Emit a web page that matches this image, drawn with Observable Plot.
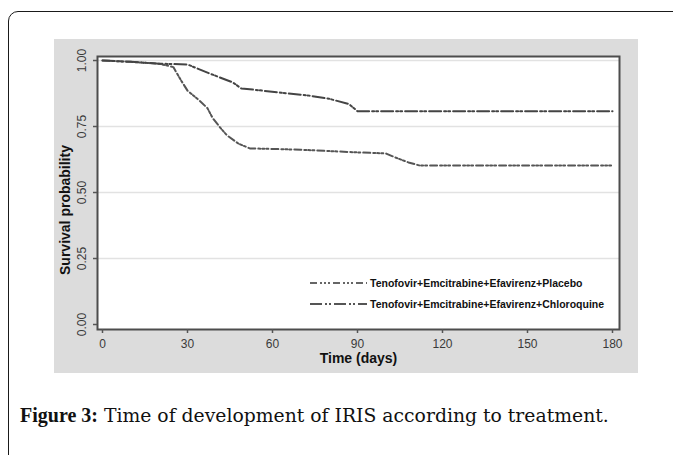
<!DOCTYPE html>
<html><head><meta charset="utf-8">
<script src="https://cdn.jsdelivr.net/npm/d3@7"></script>
<script src="https://cdn.jsdelivr.net/npm/@observablehq/plot@0.6"></script>
<style>
html,body{margin:0;padding:0;background:#fff;width:673px;height:455px;overflow:hidden}
#box{position:absolute;left:8px;top:11px;width:720px;height:520px;border:1.5px solid #1a1a1a;border-top-left-radius:10px;box-sizing:border-box}
#panel{position:absolute;left:54px;top:39px;width:584px;height:334px;background:#dcdcdc}
#legend{position:absolute;left:305px;top:275px}
#caption{position:absolute;left:20px;top:403px;font-family:"DejaVu Serif",serif;font-size:18.8px;line-height:24px;color:#111;white-space:nowrap}
#caption b{font-family:"Liberation Serif",serif;font-size:20px}
</style>
</head><body>
<div id="box"></div>
<div id="panel"></div>
<svg id="legend" width="330" height="40"></svg>
<div id="caption"><b>Figure 3:</b> Time of development of IRIS according to treatment.</div>
<script>
// Series: Kaplan-Meier estimates
const chloroDays = [0, 10, 20, 30, 38, 46, 49, 53, 63, 73, 80, 87, 90, 180];
const chloroSurv = [1.0, 0.995, 0.988, 0.985, 0.95, 0.917, 0.894, 0.89, 0.878, 0.867, 0.855, 0.835, 0.808, 0.808];
const placeboDays = [0, 10, 20, 25, 28, 30, 34, 37, 39, 42, 44, 48, 52, 60, 70, 80, 90, 100, 104, 108, 112, 180];
const placeboSurv = [1.0, 0.995, 0.988, 0.975, 0.92, 0.886, 0.85, 0.82, 0.78, 0.74, 0.716, 0.685, 0.667, 0.665, 0.662, 0.657, 0.652, 0.648, 0.63, 0.614, 0.602, 0.602];
const seriesNames = ["Tenofovir+Emcitrabine+Efavirenz+Placebo", "Tenofovir+Emcitrabine+Efavirenz+Chloroquine"];
const xTicks = [0, 30, 60, 90, 120, 150, 180];
const yTicks = [0, 0.25, 0.5, 0.75, 1.0];
const gridVals = [0.25, 0.5, 0.75, 1.0];
const xLabel = "Time (days)";
const yLabel = "Survival probability";

const dash = {placebo: "7,3,2,2,2,2,2,3", chloro: "12,3,2,2,2,3"};

const chloro = chloroDays.map((t, i) => ({t, s: chloroSurv[i]}));
const placebo = placeboDays.map((t, i) => ({t, s: placeboSurv[i]}));

const chart = Plot.plot({
  width: 584, height: 334,
  marginLeft: 43, marginTop: 17, marginRight: 19, marginBottom: 44,
  style: {background: "transparent", fontFamily: "Liberation Sans, Arial, sans-serif", fontSize: "12px", color: "#3a3a3a"},
  x: {domain: [-1.765, 182.47]},
  y: {domain: [-0.0189, 1.0152]},
  marks: [
    Plot.frame({fill: "white"}),
    Plot.ruleY(gridVals, {stroke: "#e2e2e2", strokeWidth: 1.5}),
    Plot.line(placebo, {x: "t", y: "s", stroke: "#555", strokeWidth: 2, strokeDasharray: dash.placebo}),
    Plot.line(chloro, {x: "t", y: "s", stroke: "#444", strokeWidth: 2, strokeDasharray: dash.chloro}),
    Plot.frame({stroke: "#4d4d4d", strokeWidth: 2}),
    Plot.axisY(yTicks, {tickFormat: d3.format(".2f"), tickRotate: -90, tickSize: 4, tickPadding: 8, label: null, stroke: "#555", strokeWidth: 1.5}),
    Plot.axisX(xTicks, {tickSize: 4, tickPadding: 6, label: null, stroke: "#555", strokeWidth: 1.5}),
    Plot.text([yLabel], {text: d => d, frameAnchor: "left", textAnchor: "middle", lineAnchor: "middle", rotate: -90, dx: -32, dy: 17, fontWeight: "bold", fontSize: 14, fill: "#111"}),
    Plot.text([xLabel], {text: d => d, frameAnchor: "bottom", textAnchor: "middle", lineAnchor: "middle", dy: 29, fontWeight: "bold", fontSize: 14, fill: "#111"})
  ]
});
document.getElementById("panel").appendChild(chart);

// Legend
const lg = d3.select("#legend");
const rows = [{name: seriesNames[0], d: dash.placebo, c: "#666", y: 8}, {name: seriesNames[1], d: dash.chloro, c: "#555", y: 29}];
rows.forEach(r => {
  lg.append("line").attr("x1", 5).attr("x2", 62).attr("y1", r.y).attr("y2", r.y)
    .attr("stroke", r.c).attr("stroke-width", 2).attr("stroke-dasharray", r.d);
  lg.append("text").attr("x", 65).attr("y", r.y).attr("dy", "0.35em")
    .attr("font-family", "Liberation Sans, Arial, sans-serif").attr("font-weight", "bold")
    .attr("font-size", 10.5).attr("fill", "#111").text(r.name);
});
</script>
</body></html>
